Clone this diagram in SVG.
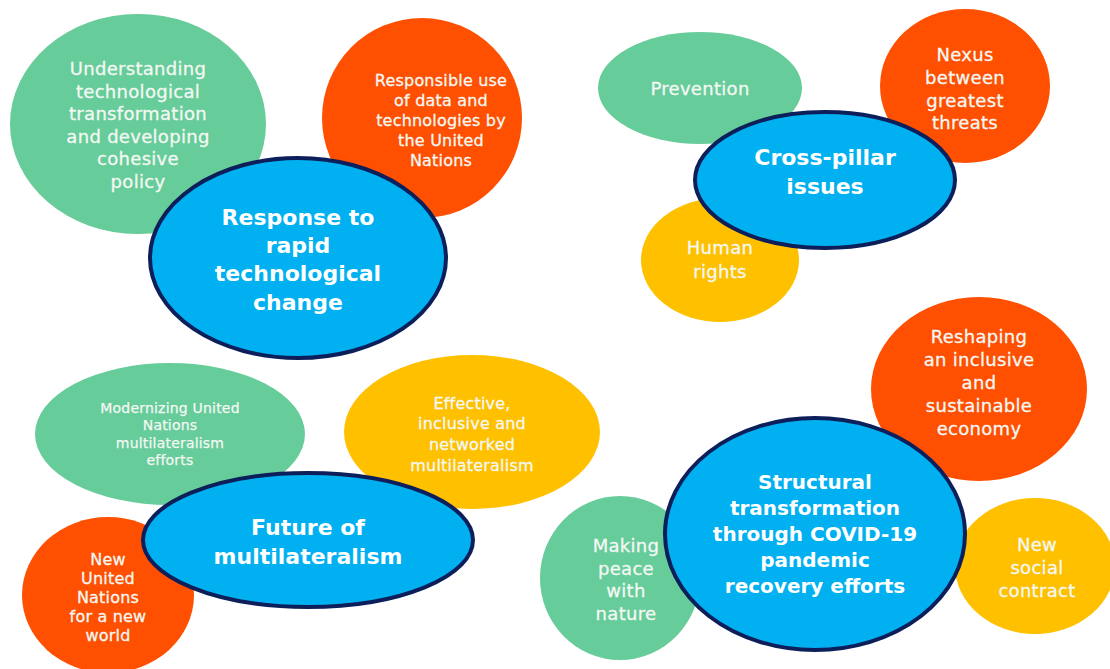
<svg xmlns="http://www.w3.org/2000/svg" width="1110" height="669" viewBox="0 0 1110 669">
<style>
.g{fill:#66CC99}
.o{fill:#FF4F00}
.y{fill:#FFC000}
.b{fill:#00B0F0;stroke:#0C1F5A;stroke-width:4}
text{font-family:"DejaVu Sans","Liberation Sans",sans-serif;fill:#F4F8F4;text-anchor:middle;dominant-baseline:central}
.s{font-size:18px;letter-spacing:0.3px;stroke:#F4F8F4;stroke-width:0.3px}
.m{font-size:16px;letter-spacing:0.2px;stroke:#F4F8F4;stroke-width:0.3px}
.t{font-size:14px;letter-spacing:0.2px;stroke:#F4F8F4;stroke-width:0.25px}
.h{font-size:22px;font-weight:bold;fill:#FFFFFF}
.h2{font-size:20px;font-weight:bold;fill:#FFFFFF}
</style>
<rect width="1110" height="669" fill="#FFFFFF"/>
<g id="connectors"/>
<g id="n-understanding">
<ellipse class="g" cx="138" cy="124" rx="128" ry="110"/>
<text class="s"><tspan x="138" y="68">Understanding</tspan><tspan x="138" y="91">technological</tspan><tspan x="138" y="113">transformation</tspan><tspan x="138" y="136">and developing</tspan><tspan x="138" y="158">cohesive</tspan><tspan x="138" y="181">policy</tspan></text>
</g>
<g id="n-responsible">
<ellipse class="o" cx="422" cy="118" rx="100" ry="100"/>
<text class="m"><tspan x="441" y="80">Responsible use</tspan><tspan x="441" y="100">of data and</tspan><tspan x="441" y="120">technologies by</tspan><tspan x="441" y="140">the United</tspan><tspan x="441" y="160">Nations</tspan></text>
</g>
<g id="n-prevention">
<ellipse class="g" cx="700" cy="88" rx="102" ry="56"/>
<text class="s" x="700" y="88">Prevention</text>
</g>
<g id="n-nexus">
<ellipse class="o" cx="965" cy="86" rx="85" ry="77"/>
<text class="s"><tspan x="965" y="54">Nexus</tspan><tspan x="965" y="77">between</tspan><tspan x="965" y="100">greatest</tspan><tspan x="965" y="122">threats</tspan></text>
</g>
<g id="n-human">
<ellipse class="y" cx="720" cy="260" rx="79" ry="62"/>
<text class="s"><tspan x="720" y="247">Human</tspan><tspan x="720" y="271">rights</tspan></text>
</g>
<g id="n-reshaping">
<ellipse class="o" cx="979" cy="389" rx="108" ry="92"/>
<text class="s"><tspan x="979" y="336">Reshaping</tspan><tspan x="979" y="359">an inclusive</tspan><tspan x="979" y="382">and</tspan><tspan x="979" y="405">sustainable</tspan><tspan x="979" y="428">economy</tspan></text>
</g>
<g id="n-modernizing">
<ellipse class="g" cx="170" cy="434" rx="135" ry="71"/>
<text class="t"><tspan x="170" y="408">Modernizing United</tspan><tspan x="170" y="425">Nations</tspan><tspan x="170" y="443">multilateralism</tspan><tspan x="170" y="460">efforts</tspan></text>
</g>
<g id="n-effective">
<ellipse class="y" cx="472" cy="432" rx="128" ry="77"/>
<text class="m"><tspan x="472" y="403">Effective,</tspan><tspan x="472" y="423">inclusive and</tspan><tspan x="472" y="444">networked</tspan><tspan x="472" y="465">multilateralism</tspan></text>
</g>
<g id="n-newun">
<ellipse class="o" cx="108" cy="595" rx="86" ry="78"/>
<text class="m"><tspan x="108" y="559">New</tspan><tspan x="108" y="578">United</tspan><tspan x="108" y="597">Nations</tspan><tspan x="108" y="616">for a new</tspan><tspan x="108" y="635">world</tspan></text>
</g>
<g id="n-making">
<ellipse class="g" cx="620" cy="578" rx="80" ry="82"/>
<text class="s"><tspan x="626" y="545">Making</tspan><tspan x="626" y="568">peace</tspan><tspan x="626" y="590">with</tspan><tspan x="626" y="613">nature</tspan></text>
</g>
<g id="n-social">
<ellipse class="y" cx="1035" cy="566" rx="80" ry="68"/>
<text class="s"><tspan x="1037" y="544">New</tspan><tspan x="1037" y="567">social</tspan><tspan x="1037" y="590">contract</tspan></text>
</g>
<g id="c-tech">
<ellipse class="b" cx="298" cy="258" rx="148" ry="100"/>
<text class="h"><tspan x="298" y="217">Response to</tspan><tspan x="298" y="245">rapid</tspan><tspan x="298" y="273">technological</tspan><tspan x="298" y="302">change</tspan></text>
</g>
<g id="c-cross">
<ellipse class="b" cx="825" cy="180" rx="130" ry="68"/>
<text class="h"><tspan x="825" y="157">Cross-pillar</tspan><tspan x="825" y="186">issues</tspan></text>
</g>
<g id="c-future">
<ellipse class="b" cx="308" cy="540" rx="165" ry="67"/>
<text class="h"><tspan x="308" y="527">Future of</tspan><tspan x="308" y="556">multilateralism</tspan></text>
</g>
<g id="c-structural">
<ellipse class="b" cx="815" cy="534" rx="150" ry="116"/>
<text class="h2"><tspan x="815" y="482">Structural</tspan><tspan x="815" y="508">transformation</tspan><tspan x="815" y="534">through COVID-19</tspan><tspan x="815" y="560">pandemic</tspan><tspan x="815" y="586">recovery efforts</tspan></text>
</g>
</svg>
